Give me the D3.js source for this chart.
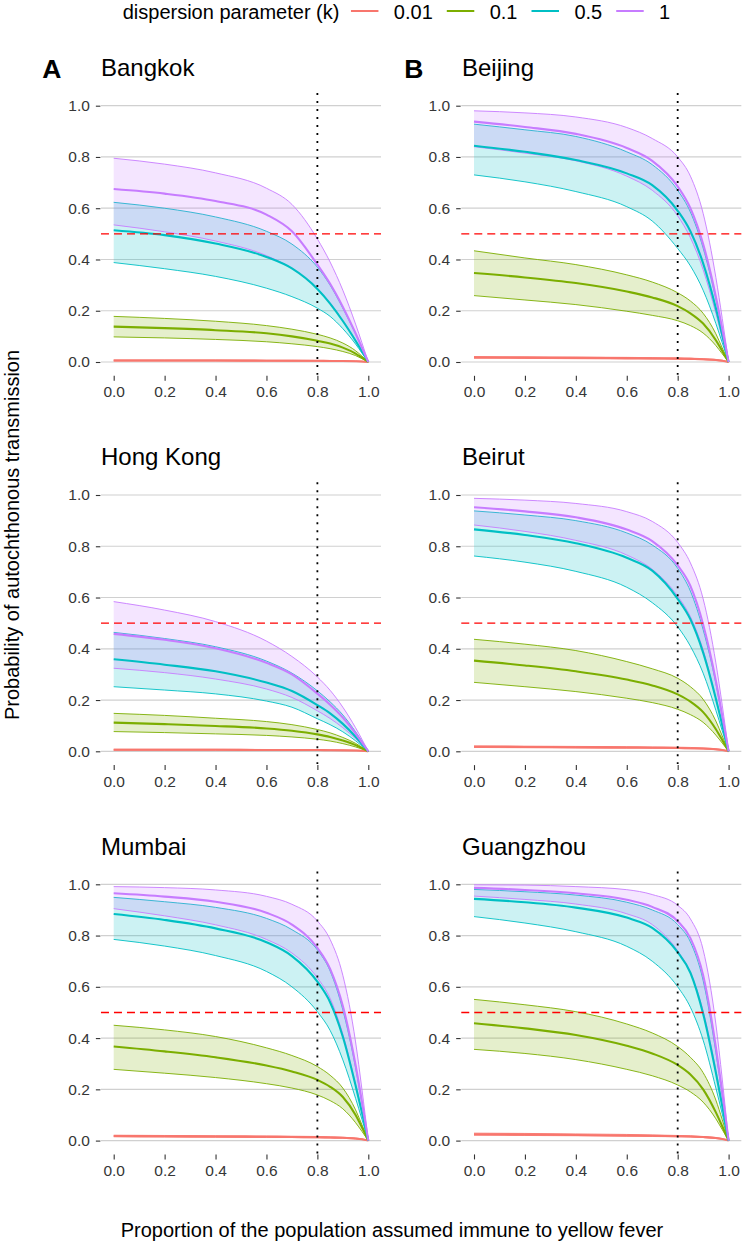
<!DOCTYPE html>
<html>
<head>
<meta charset="utf-8">
<script src="https://cdn.jsdelivr.net/npm/d3@7"></script>
<style>
  body { margin: 0; background: #fff; }
  text { font-family: "Liberation Sans", Arial, sans-serif; }
</style>
</head>
<body>
<svg id="chart" width="748" height="1245"></svg>
<script>
const immune = [0, 0.2, 0.4, 0.6, 0.7, 0.8, 0.85, 0.9, 0.95, 0.975, 1];
const kLevels = ["0.01", "0.1", "0.5", "1"];
const kColors = ["#F8766D", "#7CAE00", "#00BFC4", "#C77CFF"];
const yTicks = [0, 0.2, 0.4, 0.6, 0.8, 1.0];
const xTicks = [0, 0.2, 0.4, 0.6, 0.8, 1.0];

// rows = k 0.01, 0.1, 0.5, 1
const bangkokMid = [
  [.006,.006,.006,.005,.005,.005,.004,.004,.003,.002,0],
  [.138,.132,.124,.112,.1,.083,.072,.056,.033,.017,0],
  [.514,.495,.462,.41,.365,.285,.228,.16,.083,.042,0],
  [.675,.657,.628,.575,.51,.38,.305,.215,.112,.056,0]];
const bangkokLo = [
  [.004,.004,.004,.004,.003,.003,.003,.002,.002,.001,0],
  [.098,.094,.088,.079,.071,.06,.052,.041,.025,.013,0],
  [.388,.364,.334,.288,.255,.21,.178,.13,.07,.035,0],
  [.535,.508,.472,.415,.365,.285,.23,.16,.085,.043,0]];
const bangkokHi = [
  [.008,.008,.008,.007,.007,.006,.006,.005,.004,.003,0],
  [.178,.170,.159,.142,.128,.108,.094,.074,.044,.023,0],
  [.623,.60,.566,.51,.46,.37,.30,.21,.11,.055,0],
  [.795,.772,.738,.678,.615,.48,.39,.28,.148,.075,0]];

const beijingMid = [
  [.018,.017,.016,.015,.014,.013,.012,.011,.008,.005,0],
  [.347,.33,.308,.275,.252,.218,.19,.15,.085,.043,0],
  [.844,.82,.788,.736,.69,.59,.51,.385,.21,.105,0],
  [.938,.917,.89,.835,.785,.685,.6,.46,.255,.13,0]];
const beijingLo = [
  [.015,.014,.013,.012,.012,.011,.010,.009,.006,.004,0],
  [.259,.242,.224,.198,.182,.161,.142,.113,.064,.032,0],
  [.73,.703,.665,.606,.55,.443,.375,.28,.15,.075,0],
  [.84,.815,.785,.725,.67,.57,.485,.36,.19,.095,0]];
const beijingHi = [
  [.021,.020,.019,.018,.017,.016,.015,.013,.010,.007,0],
  [.434,.406,.38,.34,.312,.27,.238,.19,.11,.055,0],
  [.928,.906,.88,.82,.77,.67,.585,.445,.245,.125,0],
  [.98,.972,.956,.915,.872,.80,.725,.58,.33,.17,0]];

const hongkongMid = [
  [.006,.006,.006,.005,.005,.005,.004,.004,.003,.002,0],
  [.112,.106,.099,.089,.08,.066,.056,.042,.024,.012,0],
  [.359,.338,.312,.268,.235,.18,.148,.107,.057,.029,0],
  [.458,.435,.402,.345,.3,.225,.182,.132,.07,.035,0]];
const hongkongLo = [
  [.004,.004,.004,.004,.003,.003,.003,.002,.002,.001,0],
  [.077,.073,.068,.062,.056,.047,.04,.03,.017,.009,0],
  [.252,.239,.224,.196,.172,.127,.104,.076,.041,.021,0],
  [.324,.307,.282,.243,.21,.158,.128,.092,.049,.025,0]];
const hongkongHi = [
  [.008,.008,.008,.007,.007,.006,.006,.005,.004,.003,0],
  [.148,.14,.129,.116,.104,.085,.072,.054,.031,.016,0],
  [.464,.44,.408,.352,.305,.236,.193,.142,.076,.039,0],
  [.584,.551,.506,.43,.37,.29,.238,.172,.092,.047,0]];

const beirutMid = [
  [.018,.017,.016,.015,.014,.013,.012,.011,.008,.005,0],
  [.354,.335,.312,.28,.257,.222,.194,.153,.086,.044,0],
  [.866,.844,.812,.755,.705,.595,.515,.385,.205,.103,0],
  [.952,.936,.913,.865,.82,.725,.645,.495,.275,.14,0]];
const beirutLo = [
  [.015,.014,.013,.012,.012,.011,.010,.009,.006,.004,0],
  [.269,.252,.233,.207,.19,.164,.143,.113,.063,.032,0],
  [.762,.738,.702,.64,.58,.486,.41,.305,.16,.08,0],
  [.883,.858,.823,.766,.71,.605,.525,.395,.205,.103,0]];
const beirutHi = [
  [.021,.020,.019,.018,.017,.016,.015,.013,.010,.007,0],
  [.437,.418,.393,.35,.322,.285,.252,.203,.118,.06,0],
  [.938,.922,.9,.852,.805,.714,.625,.475,.265,.133,0],
  [.987,.98,.967,.935,.897,.815,.735,.595,.345,.18,0]];

const mumbaiMid = [
  [.018,.017,.016,.015,.014,.013,.012,.011,.008,.005,0],
  [.367,.348,.325,.293,.27,.237,.21,.17,.1,.052,0],
  [.884,.861,.828,.774,.72,.62,.54,.405,.215,.11,0],
  [.965,.952,.932,.889,.843,.752,.67,.525,.295,.152,0]];
const mumbaiLo = [
  [.015,.014,.013,.012,.012,.011,.010,.009,.006,.004,0],
  [.278,.263,.246,.222,.205,.178,.156,.124,.07,.036,0],
  [.785,.759,.722,.66,.6,.503,.43,.315,.165,.083,0],
  [.905,.877,.842,.785,.732,.635,.555,.415,.22,.112,0]];
const mumbaiHi = [
  [.021,.020,.019,.018,.017,.016,.015,.013,.010,.007,0],
  [.45,.432,.406,.362,.332,.289,.255,.205,.12,.062,0],
  [.949,.932,.91,.867,.823,.744,.662,.51,.285,.145,0],
  [.991,.987,.978,.953,.922,.857,.785,.645,.385,.2,0]];

const guangzhouMid = [
  [.025,.024,.022,.020,.019,.017,.016,.014,.010,.006,0],
  [.458,.438,.412,.37,.34,.295,.258,.2,.11,.056,0],
  [.943,.93,.909,.87,.83,.735,.655,.495,.265,.135,0],
  [.986,.978,.965,.94,.912,.856,.79,.645,.365,.19,0]];
const guangzhouLo = [
  [.021,.020,.019,.017,.016,.015,.014,.012,.008,.005,0],
  [.356,.34,.316,.278,.253,.217,.19,.15,.085,.043,0],
  [.874,.849,.815,.758,.7,.6,.52,.392,.205,.104,0],
  [.954,.941,.923,.885,.843,.74,.655,.505,.275,.14,0]];
const guangzhouHi = [
  [.029,.028,.026,.024,.022,.020,.019,.016,.012,.008,0],
  [.551,.53,.503,.455,.42,.367,.325,.265,.158,.082,0],
  [.98,.971,.958,.93,.9,.843,.775,.625,.345,.175,0],
  [.998,.997,.991,.979,.96,.918,.865,.745,.455,.24,0]];

const panels = [
  {name: "Bangkok",   tag: "A", col: 0, row: 0, mid: bangkokMid,   lo: bangkokLo,   hi: bangkokHi},
  {name: "Beijing",   tag: "B", col: 1, row: 0, mid: beijingMid,   lo: beijingLo,   hi: beijingHi},
  {name: "Hong Kong", tag: "",  col: 0, row: 1, mid: hongkongMid,  lo: hongkongLo,  hi: hongkongHi},
  {name: "Beirut",    tag: "",  col: 1, row: 1, mid: beirutMid,    lo: beirutLo,    hi: beirutHi},
  {name: "Mumbai",    tag: "",  col: 0, row: 2, mid: mumbaiMid,    lo: mumbaiLo,    hi: mumbaiHi},
  {name: "Guangzhou", tag: "",  col: 1, row: 2, mid: guangzhouMid, lo: guangzhouLo, hi: guangzhouHi}
];

const svg = d3.select("#chart");
const colX = [113.7, 474];      // pixel of x = 0
const rowY = [105.7, 495, 884.3]; // pixel of y = 1
const plotW = 254.6, plotH = 256.3;

panels.forEach(p => {
  const x = d3.scaleLinear().domain([0, 1]).range([colX[p.col], colX[p.col] + plotW]);
  const y = d3.scaleLinear().domain([0, 1]).range([rowY[p.row] + plotH, rowY[p.row]]);
  const left = x(-0.05), right = x(1.05), top = y(1.05), bottom = y(-0.05);
  const g = svg.append("g");

  // grid
  g.selectAll(".grid").data(yTicks).enter().append("line")
    .attr("x1", left).attr("x2", right)
    .attr("y1", d => y(d)).attr("y2", d => y(d))
    .attr("stroke", "#d0d0d0").attr("stroke-width", 1.2);

  // axes
  const ya = g.append("g").attr("transform", `translate(${left - 0.6},0)`)
    .call(d3.axisLeft(y).tickValues(yTicks).tickFormat(d3.format(".1f")).tickSize(4.5).tickPadding(6));
  const xa = g.append("g").attr("transform", `translate(0,${bottom + 1})`)
    .call(d3.axisBottom(x).tickValues(xTicks).tickFormat(d3.format(".1f")).tickSize(5).tickPadding(5.5));
  [ya, xa].forEach(a => {
    a.select(".domain").remove();
    a.selectAll("line").attr("stroke", "#333").attr("stroke-width", 1.1);
    a.selectAll("text").attr("fill", "#363636").style("font-size", "15.5px")
      .style("font-family", '"Liberation Sans", Arial, sans-serif');
  });

  const pts = i => immune.map((v, j) => ({x: v, mid: p.mid[i][j], lo: p.lo[i][j], hi: p.hi[i][j]}));
  const area = d3.area().x(d => x(d.x)).y0(d => y(d.lo)).y1(d => y(d.hi)).curve(d3.curveMonotoneX);
  const line = key => d3.line().x(d => x(d.x)).y(d => y(d[key])).curve(d3.curveMonotoneX);

  // ribbons with thin edges
  kLevels.forEach((k, i) => {
    const d = pts(i);
    g.append("path").datum(d).attr("d", area).attr("fill", kColors[i]).attr("fill-opacity", 0.2);
    ["lo", "hi"].forEach(key => {
      g.append("path").datum(d).attr("d", line(key))
        .attr("fill", "none").attr("stroke", kColors[i]).attr("stroke-width", 0.9);
    });
  });
  // medians
  kLevels.forEach((k, i) => {
    g.append("path").datum(pts(i)).attr("d", line("mid"))
      .attr("fill", "none").attr("stroke", kColors[i]).attr("stroke-width", 2.1);
  });

  // reference lines
  g.append("line").attr("x1", left).attr("x2", right).attr("y1", y(0.5)).attr("y2", y(0.5))
    .attr("stroke", "#ff0000").attr("stroke-width", 1.4).attr("stroke-dasharray", "8,5");
  g.append("line").attr("x1", x(0.8)).attr("x2", x(0.8)).attr("y1", top).attr("y2", bottom)
    .attr("stroke", "#000").attr("stroke-width", 1.8).attr("stroke-dasharray", "2,6");

  // titles
  const titleX = p.col === 0 ? 101 : 462;
  const titleY = rowY[p.row] - 29.7;
  g.append("text").attr("x", titleX).attr("y", titleY).attr("font-size", 24).text(p.name);
  if (p.tag) {
    g.append("text").attr("x", p.col === 0 ? 42.3 : 404.3).attr("y", titleY + 2.3)
      .attr("font-size", 26.5).attr("font-weight", "bold").text(p.tag);
  }
});

// axis titles
svg.append("text").attr("transform", "translate(19,535) rotate(-90)")
  .attr("text-anchor", "middle").attr("font-size", 20)
  .text("Probability of autochthonous transmission");
svg.append("text").attr("x", 392).attr("y", 1237).attr("text-anchor", "middle").attr("font-size", 20)
  .text("Proportion of the population assumed immune to yellow fever");

// legend
let lx = 122.7;
const lgTitle = svg.append("text").attr("x", lx).attr("y", 18.5).attr("font-size", 20)
  .text("dispersion parameter (k)");
lx += lgTitle.node().getComputedTextLength() + 11.5;
kLevels.forEach((k, i) => {
  svg.append("line").attr("x1", lx).attr("x2", lx + 27.5).attr("y1", 11).attr("y2", 11)
    .attr("stroke", kColors[i]).attr("stroke-width", 2);
  lx += 27.5 + 15.4;
  const t = svg.append("text").attr("x", lx).attr("y", 18.5).attr("font-size", 20).text(k);
  lx += t.node().getComputedTextLength() + 14;
});
</script>
</body>
</html>
